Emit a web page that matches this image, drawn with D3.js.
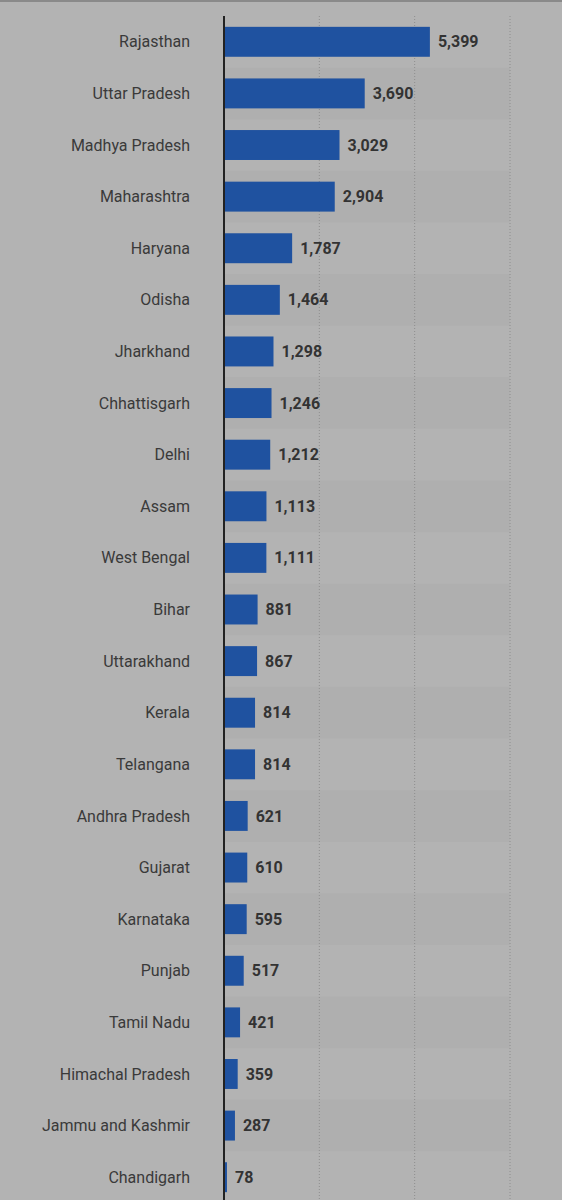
<!DOCTYPE html>
<html><head><meta charset="utf-8">
<script src="https://cdn.jsdelivr.net/npm/d3@7"></script>
<style>body{margin:0;background:#b3b3b3}</style>
</head><body>
<script>
const states = ['Rajasthan','Uttar Pradesh','Madhya Pradesh','Maharashtra','Haryana','Odisha','Jharkhand','Chhattisgarh','Delhi','Assam','West Bengal','Bihar','Uttarakhand','Kerala','Telangana','Andhra Pradesh','Gujarat','Karnataka','Punjab','Tamil Nadu','Himachal Pradesh','Jammu and Kashmir','Chandigarh'];
const values = [5399,3690,3029,2904,1787,1464,1298,1246,1212,1113,1111,881,867,814,814,621,610,595,517,421,359,287,78];
const gridTicks = [2500,5000,7500];

const WIDTH = 562, HEIGHT = 1200;
const x0 = 224;
const svg = d3.select('body').append('svg').attr('width', WIDTH).attr('height', HEIGHT);

svg.append('rect').attr('width', WIDTH).attr('height', 2).attr('fill', '#8a8a8a');

const x = d3.scaleLinear().domain([0, 7500]).range([x0, 510]);
const y = d3.scaleBand().domain(states).range([16, 1203]).paddingInner(0.42).paddingOuter(0.21);
const step = y.step();

// alternating row stripes
svg.selectAll('rect.stripe').data(states.filter((d, i) => i % 2 === 1)).enter()
  .append('rect').attr('class', 'stripe')
  .attr('x', x0).attr('width', 510 - x0)
  .attr('y', d => y(d) + y.bandwidth() / 2 - step / 2)
  .attr('height', step).attr('fill', '#afafaf');

svg.selectAll('line.grid').data(gridTicks).enter()
  .append('line').attr('class', 'grid')
  .attr('x1', d => x(d)).attr('x2', d => x(d))
  .attr('y1', 16).attr('y2', HEIGHT)
  .attr('stroke', '#8e8e8e').attr('stroke-dasharray', '1,2');

svg.selectAll('rect.bar').data(values).enter()
  .append('rect').attr('class', 'bar')
  .attr('x', x0).attr('y', (d, i) => y(states[i]))
  .attr('width', d => x(d) - x0).attr('height', y.bandwidth())
  .attr('fill', '#1f52a0');

svg.selectAll('text.val').data(values).enter()
  .append('text').attr('class', 'val')
  .attr('x', d => x(d) + 8).attr('y', (d, i) => y(states[i]) + y.bandwidth() / 2)
  .attr('dy', '0.35em').attr('font-family', 'Roboto').attr('font-weight', 'bold')
  .attr('font-size', 16).attr('fill', '#333')
  .text(d => d3.format(',')(d));

svg.selectAll('text.lab').data(states).enter()
  .append('text').attr('class', 'lab')
  .attr('x', 190).attr('y', d => y(d) + y.bandwidth() / 2)
  .attr('dy', '0.35em').attr('text-anchor', 'end')
  .attr('font-family', 'Roboto').attr('font-size', 16).attr('fill', '#3a3a3a')
  .text(d => d);

svg.append('line').attr('x1', x0).attr('x2', x0).attr('y1', 16).attr('y2', HEIGHT)
  .attr('stroke', '#222').attr('stroke-width', 2);
</script>
</body></html>
